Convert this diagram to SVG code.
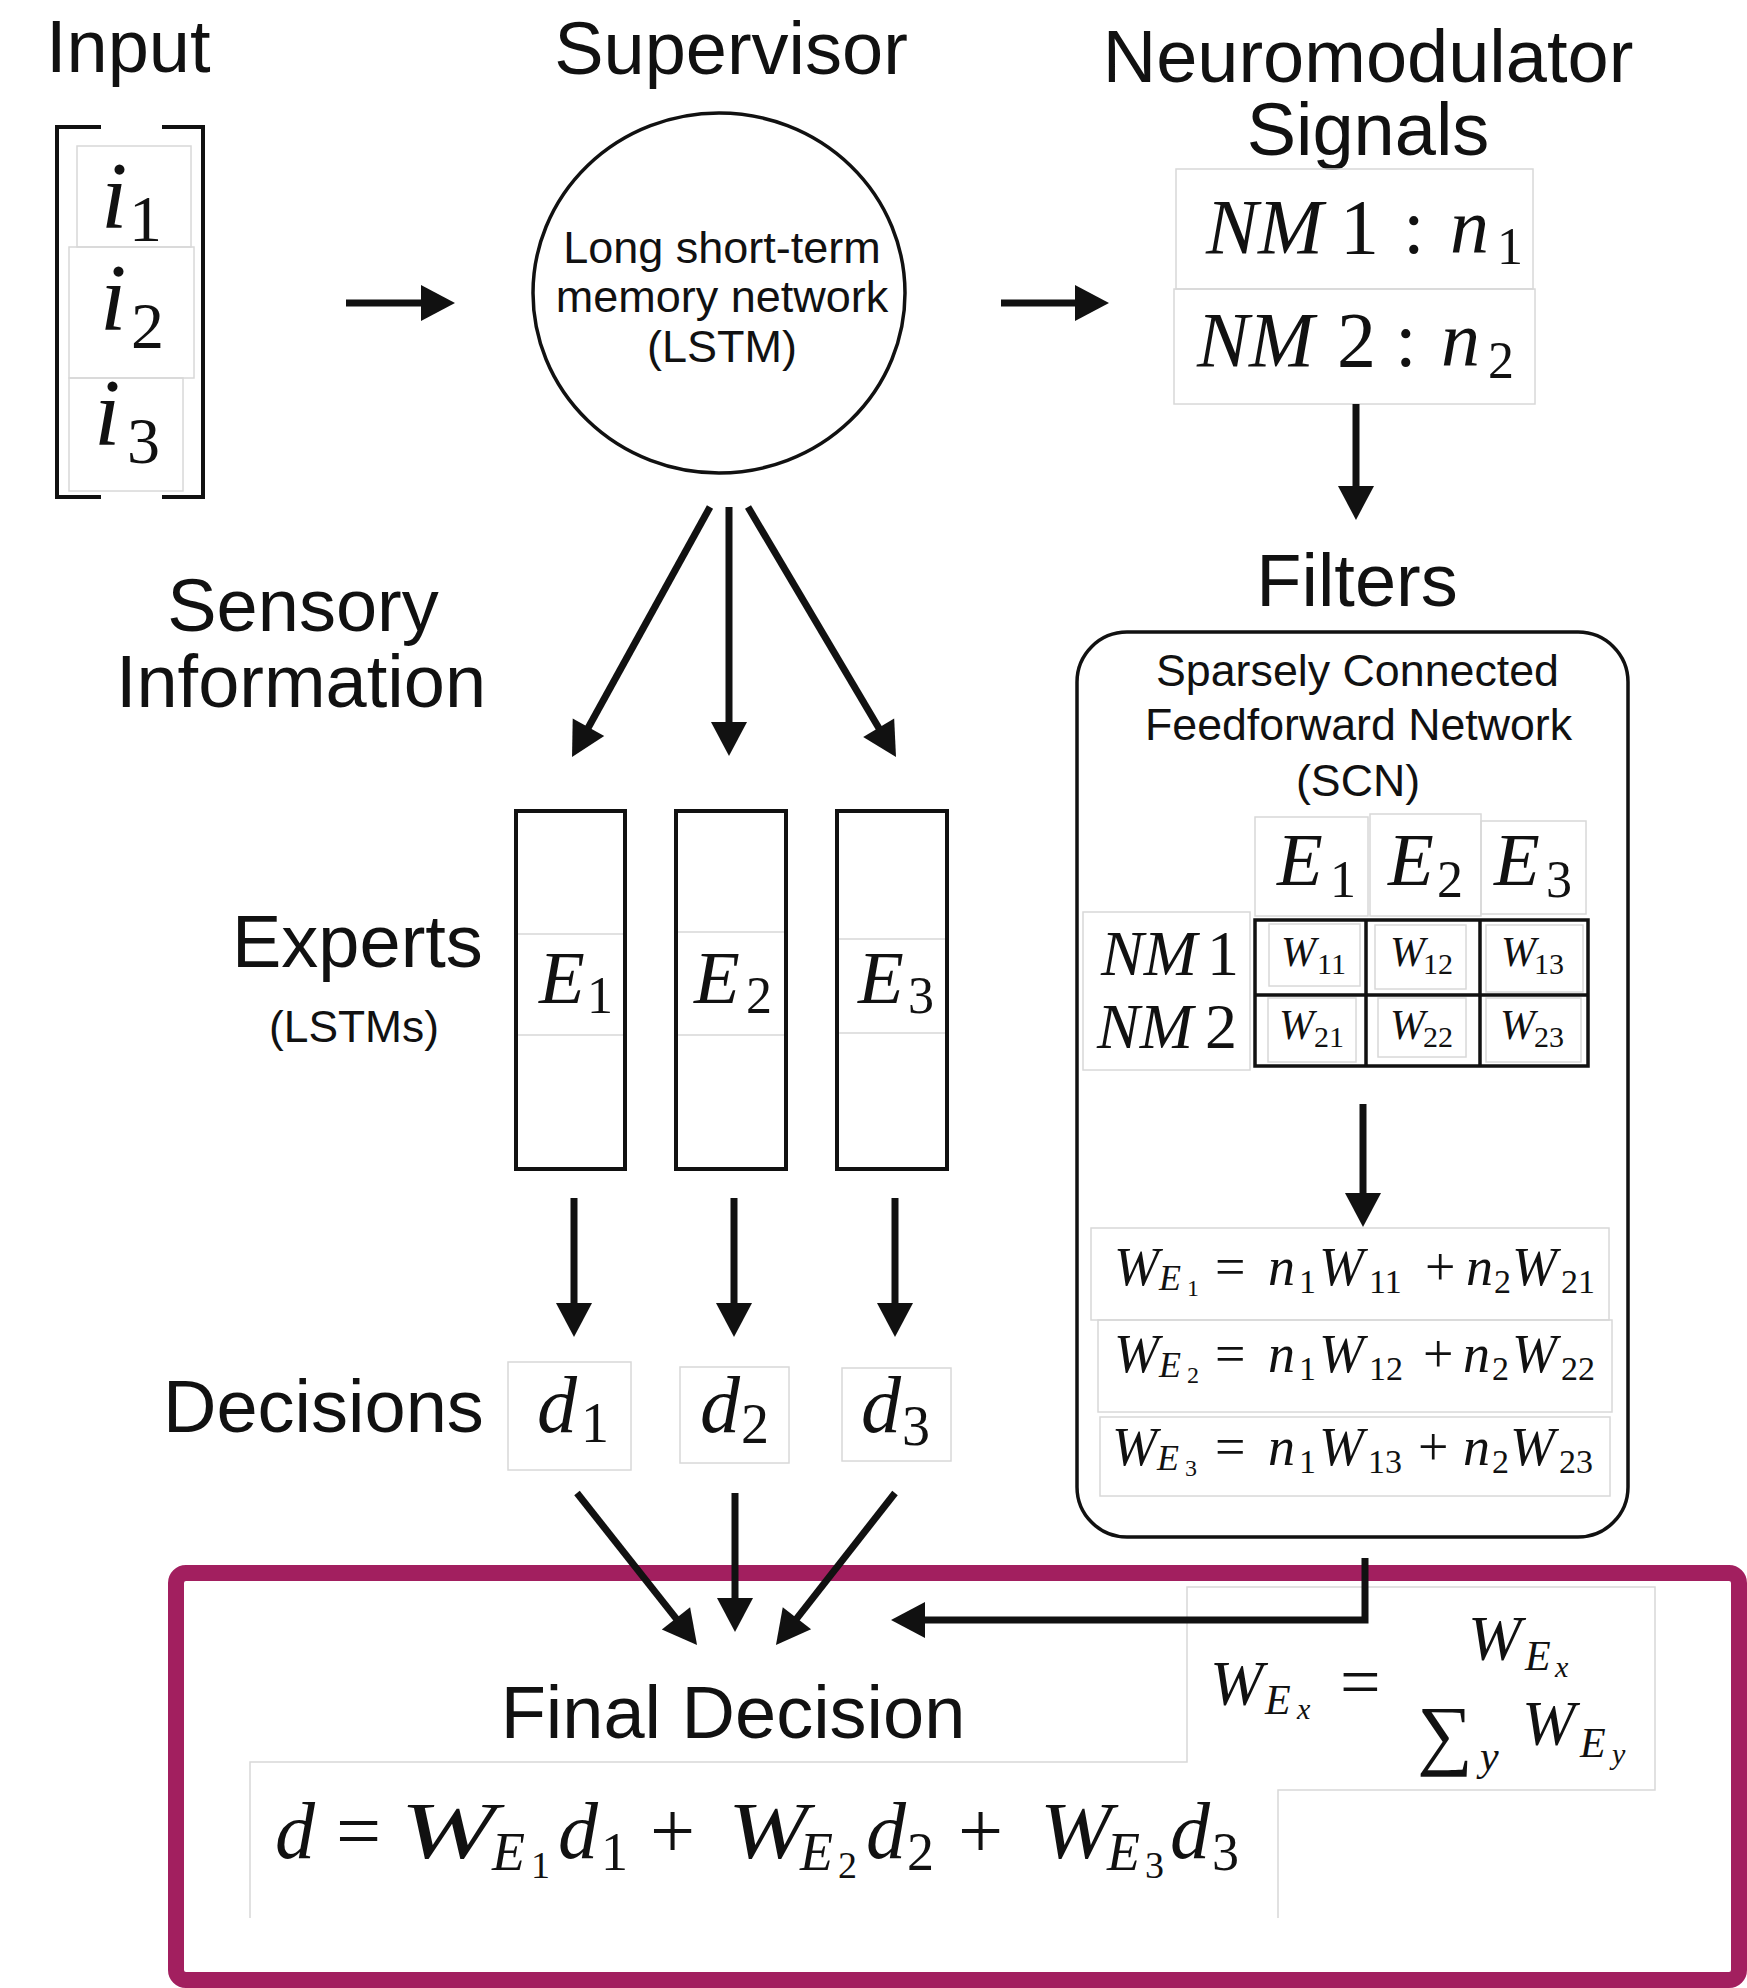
<svg xmlns="http://www.w3.org/2000/svg" width="1747" height="1988" viewBox="0 0 1747 1988">
<style>
.lbl{font-family:"Liberation Sans",Arial,sans-serif;font-size:74px;fill:#111}
.sm{font-size:44px}
.cl{font-size:45px}
.m{font-family:"Liberation Serif","Times New Roman",serif;font-style:italic;fill:#111}
.u{font-style:normal}
.faint{fill:none;stroke:#d8d8d8;stroke-width:1.5}
.box{fill:none;stroke:#111;stroke-width:4}
.edge{fill:none;stroke:#111;stroke-width:7}
</style>
<defs>
<marker id="ah" markerUnits="userSpaceOnUse" markerWidth="40" markerHeight="40" refX="2" refY="18" orient="auto" overflow="visible">
<path d="M0,0 L34,18 L0,36 z" fill="#111"/>
</marker>
</defs>
<rect width="1747" height="1988" fill="#fff"/>

<g id="input">
<text class="lbl" x="46" y="72">Input</text>
<path class="box" d="M101,127 H57 V497 H101 M162,127 H203 V497 H162"/>
<rect class="faint" x="77" y="146" width="114" height="101"/>
<rect class="faint" x="69" y="247" width="125" height="131"/>
<rect class="faint" x="69" y="378" width="114" height="113"/>
<text class="m" font-size="95"><tspan x="101" y="228">i</tspan><tspan class="u" x="129" y="241" font-size="66">1</tspan></text>
<text class="m" font-size="95"><tspan x="100" y="330">i</tspan><tspan class="u" x="131" y="348" font-size="66">2</tspan></text>
<text class="m" font-size="95"><tspan x="94" y="445">i</tspan><tspan class="u" x="127" y="463" font-size="66">3</tspan></text>
</g>

<g id="supervisor">
<text class="lbl" x="731" y="74" text-anchor="middle">Supervisor</text>
<ellipse cx="719" cy="293" rx="186" ry="180" fill="none" stroke="#111" stroke-width="3.5"/>
<text class="lbl cl" text-anchor="middle"><tspan x="722" y="263">Long short-term</tspan><tspan x="722" y="312">memory network</tspan><tspan x="722" y="362">(LSTM)</tspan></text>
</g>

<g id="neuromodulators">
<text class="lbl" text-anchor="middle"><tspan x="1368" y="82">Neuromodulator</tspan><tspan x="1368" y="155">Signals</tspan></text>
<rect class="faint" x="1176" y="169" width="357" height="120"/>
<rect class="faint" x="1174" y="289" width="361" height="115"/>
<text class="m" font-size="78"><tspan x="1206" y="253">NM</tspan><tspan class="u" x="1340">1</tspan><tspan class="u" x="1403">:</tspan><tspan x="1450">n</tspan><tspan class="u" x="1497" y="264" font-size="52">1</tspan></text>
<text class="m" font-size="78"><tspan x="1197" y="366">NM</tspan><tspan class="u" x="1337">2</tspan><tspan class="u" x="1395">:</tspan><tspan x="1441">n</tspan><tspan class="u" x="1488" y="378" font-size="52">2</tspan></text>
</g>

<g id="sensory-label">
<text class="lbl" text-anchor="middle"><tspan x="303" y="631">Sensory</tspan><tspan x="301" y="707">Information</tspan></text>
</g>

<g id="experts">
<text class="lbl" x="232" y="967">Experts</text>
<text class="lbl sm" x="269" y="1042" textLength="170" lengthAdjust="spacingAndGlyphs">(LSTMs)</text>
<path class="faint" d="M518,934 H623 M518,1035 H623 M678,932 H785 M678,1035 H785 M839,939 H946 M839,1033 H946"/>
<rect class="box" x="516" y="811" width="109" height="358"/>
<rect class="box" x="676" y="811" width="110" height="358"/>
<rect class="box" x="837" y="811" width="110" height="358"/>
<text class="m" font-size="75"><tspan x="539" y="1003">E</tspan><tspan class="u" x="587" y="1013" font-size="52">1</tspan></text>
<text class="m" font-size="75"><tspan x="694" y="1003">E</tspan><tspan class="u" x="746" y="1013" font-size="52">2</tspan></text>
<text class="m" font-size="75"><tspan x="858" y="1003">E</tspan><tspan class="u" x="908" y="1013" font-size="52">3</tspan></text>
</g>

<g id="decisions">
<text class="lbl" x="163" y="1432">Decisions</text>
<rect class="faint" x="508" y="1362" width="123" height="108"/>
<rect class="faint" x="680" y="1367" width="109" height="96"/>
<rect class="faint" x="842" y="1368" width="109" height="93"/>
<text class="m" font-size="80"><tspan x="537" y="1432">d</tspan><tspan class="u" x="581" y="1442" font-size="56">1</tspan></text>
<text class="m" font-size="80"><tspan x="700" y="1432">d</tspan><tspan class="u" x="741" y="1443" font-size="56">2</tspan></text>
<text class="m" font-size="80"><tspan x="861" y="1432">d</tspan><tspan class="u" x="902" y="1445" font-size="56">3</tspan></text>
</g>

<g id="filters">
<text class="lbl" x="1357" y="606" text-anchor="middle">Filters</text>
<rect x="1077" y="632" width="551" height="905" rx="50" ry="50" fill="none" stroke="#111" stroke-width="3.5"/>
<text class="lbl sm" x="1156" y="686" textLength="403" lengthAdjust="spacingAndGlyphs">Sparsely Connected</text>
<text class="lbl sm" x="1145" y="740" textLength="427" lengthAdjust="spacingAndGlyphs">Feedforward Network</text>
<text class="lbl sm" x="1296" y="796" textLength="124" lengthAdjust="spacingAndGlyphs">(SCN)</text>
<rect class="faint" x="1255" y="817" width="113" height="99"/>
<rect class="faint" x="1370" y="814" width="111" height="102"/>
<rect class="faint" x="1481" y="821" width="105" height="93"/>
<rect class="faint" x="1083" y="912" width="167" height="158"/>
<text class="m" font-size="75"><tspan x="1277" y="885">E</tspan><tspan class="u" x="1330" y="897" font-size="52">1</tspan></text>
<text class="m" font-size="75"><tspan x="1388" y="885">E</tspan><tspan class="u" x="1437" y="897" font-size="52">2</tspan></text>
<text class="m" font-size="75"><tspan x="1494" y="885">E</tspan><tspan class="u" x="1546" y="897" font-size="52">3</tspan></text>
<text class="m" font-size="64"><tspan x="1101" y="975">NM</tspan><tspan class="u" x="1207">1</tspan></text>
<text class="m" font-size="64"><tspan x="1097" y="1048">NM</tspan><tspan class="u" x="1205">2</tspan></text>
<rect class="faint" x="1269" y="924" width="91" height="62"/>
<rect class="faint" x="1375" y="925" width="91" height="64"/>
<rect class="faint" x="1486" y="925" width="97" height="67"/>
<rect class="faint" x="1268" y="998" width="88" height="64"/>
<rect class="faint" x="1378" y="998" width="88" height="59"/>
<rect class="faint" x="1486" y="998" width="95" height="64"/>
<rect x="1255" y="920" width="333" height="146" fill="none" stroke="#111" stroke-width="3.5"/>
<path d="M1255,995 H1588 M1366,920 V1066 M1480,920 V1066" fill="none" stroke="#111" stroke-width="3.5"/>
<text class="m" font-size="42"><tspan x="1281" y="966">W</tspan><tspan class="u" x="1317" y="974" font-size="30">11</tspan></text>
<text class="m" font-size="42"><tspan x="1390" y="966">W</tspan><tspan class="u" x="1423" y="974" font-size="30">12</tspan></text>
<text class="m" font-size="42"><tspan x="1501" y="966">W</tspan><tspan class="u" x="1534" y="974" font-size="30">13</tspan></text>
<text class="m" font-size="42"><tspan x="1279" y="1039">W</tspan><tspan class="u" x="1314" y="1047" font-size="30">21</tspan></text>
<text class="m" font-size="42"><tspan x="1390" y="1039">W</tspan><tspan class="u" x="1423" y="1047" font-size="30">22</tspan></text>
<text class="m" font-size="42"><tspan x="1500" y="1039">W</tspan><tspan class="u" x="1534" y="1047" font-size="30">23</tspan></text>
<rect class="faint" x="1091" y="1228" width="518" height="92"/>
<rect class="faint" x="1098" y="1320" width="514" height="92"/>
<rect class="faint" x="1100" y="1417" width="510" height="79"/>
<text class="m" font-size="54"><tspan x="1114" y="1285">W</tspan><tspan x="1159" y="1290" font-size="36">E</tspan><tspan class="u" x="1187" y="1296" font-size="24">1</tspan><tspan class="u" x="1215" y="1285">=</tspan><tspan x="1268">n</tspan><tspan class="u" x="1299" y="1293" font-size="34">1</tspan><tspan x="1319" y="1285">W</tspan><tspan class="u" x="1369" y="1293" font-size="34">11</tspan><tspan class="u" x="1425" y="1285">+</tspan><tspan x="1466">n</tspan><tspan class="u" x="1494" y="1293" font-size="34">2</tspan><tspan x="1512" y="1285">W</tspan><tspan class="u" x="1561" y="1293" font-size="34">21</tspan></text>
<text class="m" font-size="54"><tspan x="1114" y="1372">W</tspan><tspan x="1159" y="1377" font-size="36">E</tspan><tspan class="u" x="1187" y="1383" font-size="24">2</tspan><tspan class="u" x="1215" y="1372">=</tspan><tspan x="1268">n</tspan><tspan class="u" x="1299" y="1380" font-size="34">1</tspan><tspan x="1319" y="1372">W</tspan><tspan class="u" x="1369" y="1380" font-size="34">12</tspan><tspan class="u" x="1423" y="1372">+</tspan><tspan x="1463">n</tspan><tspan class="u" x="1492" y="1380" font-size="34">2</tspan><tspan x="1512" y="1372">W</tspan><tspan class="u" x="1561" y="1380" font-size="34">22</tspan></text>
<text class="m" font-size="54"><tspan x="1112" y="1465">W</tspan><tspan x="1157" y="1470" font-size="36">E</tspan><tspan class="u" x="1185" y="1476" font-size="24">3</tspan><tspan class="u" x="1215" y="1465">=</tspan><tspan x="1268">n</tspan><tspan class="u" x="1299" y="1473" font-size="34">1</tspan><tspan x="1319" y="1465">W</tspan><tspan class="u" x="1368" y="1473" font-size="34">13</tspan><tspan class="u" x="1418" y="1465">+</tspan><tspan x="1463">n</tspan><tspan class="u" x="1492" y="1473" font-size="34">2</tspan><tspan x="1510" y="1465">W</tspan><tspan class="u" x="1559" y="1473" font-size="34">23</tspan></text>
</g>

<g id="final-decision">
<rect x="176" y="1573" width="1563" height="407" rx="10" ry="10" fill="none" stroke="#A21F5F" stroke-width="16"/>
<path class="faint" d="M250,1918 V1762 H1187 V1587 H1655 V1790 H1278 V1918"/>
<text class="lbl" x="733" y="1738" text-anchor="middle">Final Decision</text>
<text class="m" font-size="64"><tspan x="1210" y="1705">W</tspan><tspan x="1265" y="1714" font-size="42">E</tspan><tspan x="1297" y="1719" font-size="30">x</tspan><tspan class="u" x="1340" y="1706" font-size="72">=</tspan></text>
<text class="m" font-size="64"><tspan x="1468" y="1660">W</tspan><tspan x="1525" y="1670" font-size="42">E</tspan><tspan x="1555" y="1677" font-size="30">x</tspan></text>
<text class="m" font-size="64"><tspan class="u" x="1417" y="1760" font-size="78">∑</tspan><tspan x="1480" y="1770" font-size="42">y</tspan><tspan x="1522" y="1745">W</tspan><tspan x="1580" y="1757" font-size="42">E</tspan><tspan x="1612" y="1764" font-size="30">y</tspan></text>
<text class="m" font-size="80"><tspan x="275" y="1858">d</tspan><tspan class="u" x="336">=</tspan><tspan x="400" textLength="96" lengthAdjust="spacingAndGlyphs">W</tspan><tspan x="492" y="1870" font-size="54">E</tspan><tspan class="u" x="531" y="1878" font-size="38">1</tspan><tspan x="558" y="1858">d</tspan><tspan class="u" x="601" y="1870" font-size="54">1</tspan><tspan class="u" x="650" y="1858">+</tspan><tspan x="728" textLength="80" lengthAdjust="spacingAndGlyphs">W</tspan><tspan x="800" y="1870" font-size="54">E</tspan><tspan class="u" x="838" y="1878" font-size="38">2</tspan><tspan x="866" y="1858">d</tspan><tspan class="u" x="907" y="1870" font-size="54">2</tspan><tspan class="u" x="958" y="1858">+</tspan><tspan x="1040" textLength="72" lengthAdjust="spacingAndGlyphs">W</tspan><tspan x="1107" y="1870" font-size="54">E</tspan><tspan class="u" x="1145" y="1878" font-size="38">3</tspan><tspan x="1170" y="1858">d</tspan><tspan class="u" x="1212" y="1870" font-size="54">3</tspan></text>
</g>

<g id="connectors">
<line class="edge" x1="346" y1="303" x2="423" y2="303" stroke-width="8" marker-end="url(#ah)"/>
<line class="edge" x1="1001" y1="303" x2="1077" y2="303" stroke-width="8" marker-end="url(#ah)"/>
<line class="edge" x1="1356" y1="404" x2="1356" y2="488" marker-end="url(#ah)"/>
<line class="edge" x1="710" y1="507" x2="587.5" y2="729" marker-end="url(#ah)"/>
<line class="edge" x1="729" y1="507" x2="729" y2="724" marker-end="url(#ah)"/>
<line class="edge" x1="748" y1="507" x2="879.7" y2="729.5" marker-end="url(#ah)"/>
<line class="edge" x1="1363" y1="1104" x2="1363" y2="1195" marker-end="url(#ah)"/>
<line class="edge" x1="574" y1="1198" x2="574" y2="1305" marker-end="url(#ah)"/>
<line class="edge" x1="734" y1="1198" x2="734" y2="1305" marker-end="url(#ah)"/>
<line class="edge" x1="895" y1="1198" x2="895" y2="1305" marker-end="url(#ah)"/>
<line class="edge" x1="577" y1="1493" x2="677.2" y2="1619.9" marker-end="url(#ah)"/>
<line class="edge" x1="735" y1="1493" x2="735" y2="1600" marker-end="url(#ah)"/>
<line class="edge" x1="895" y1="1493" x2="795.7" y2="1619.8" marker-end="url(#ah)"/>
<path class="edge" d="M1365,1558 V1620 H923" stroke-width="9" marker-end="url(#ah)"/>
</g>
</svg>
